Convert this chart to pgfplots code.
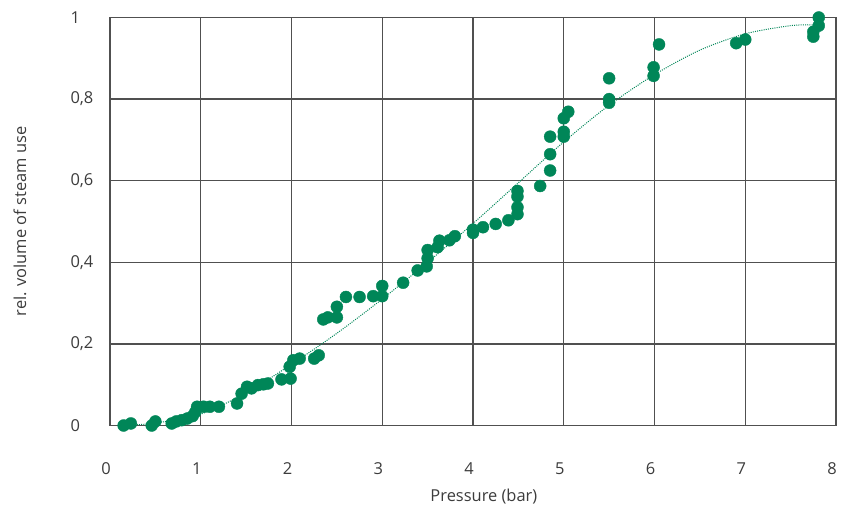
\documentclass[border=0pt]{standalone}
\usepackage{pgfplots}
\pgfplotsset{compat=1.18}
\usepackage{fontspec}
\setmainfont{Open Sans}
\definecolor{dotgreen}{RGB}{0,134,88}
\definecolor{gridgray}{RGB}{80,80,80}
\definecolor{labelgray}{RGB}{60,60,60}
\begin{document}
\begin{tikzpicture}
\begin{axis}[
  name=ax,
  scale only axis,
  width=726bp, height=408bp,
  xmin=0, xmax=8, ymin=0, ymax=1,
  xtick={0,1,...,8},
  ytick={0,0.2,0.4,0.6,0.8,1},
  xticklabels={0,1,2,3,4,5,6,7,8},
  yticklabels={0,{0,2},{0,4},{0,6},{0,8},1},
  major tick length=0pt,
  grid=major,
  major grid style={gridgray, line width=1.2bp},
  axis line style={gridgray, line width=1.2bp},
  tick label style={font=\fontsize{16.5}{19}\selectfont, text=labelgray},
  xticklabel style={anchor=center, xshift=-4bp, yshift=-43bp},
  yticklabel style={anchor=west, xshift=-43bp},
  label style={font=\fontsize{16.5}{19}\selectfont, text=labelgray},
  xlabel={Pressure (bar)},
  ylabel={rel. volume of steam use},
  xlabel style={at={(axis description cs:0.515,-0.174)}, anchor=center},
  ylabel style={at={(axis description cs:-0.124,0.5)}, anchor=center},
  clip=false,
]
\addplot[dotgreen, line width=1bp, dash pattern=on 1bp off 1.2bp, smooth, no marks] coordinates {
(0.15,0.000) (0.5,0.006) (1.0,0.028) (1.5,0.080) (2.0,0.150) (2.5,0.226)
(3.0,0.310) (3.5,0.400) (4.0,0.495) (4.5,0.595) (5.0,0.695) (5.5,0.785)
(6.0,0.860) (6.5,0.920) (7.0,0.960) (7.5,0.980) (7.78,0.982)
};
\addplot[only marks, mark=*, mark size=6bp, mark options={fill=dotgreen, draw=dotgreen}] table {
x y
0.15 0.000
0.23 0.005
0.46 0.000
0.50 0.010
0.68 0.005
0.73 0.010
0.79 0.013
0.85 0.017
0.91 0.023
0.94 0.033
0.96 0.046
1.03 0.046
1.10 0.046
1.20 0.046
1.40 0.054
1.45 0.078
1.51 0.095
1.56 0.091
1.63 0.099
1.69 0.101
1.74 0.103
1.89 0.113
1.99 0.115
1.98 0.144
2.02 0.160
2.09 0.164
2.25 0.164
2.30 0.172
2.35 0.260
2.40 0.265
2.50 0.265
2.50 0.291
2.60 0.315
2.75 0.315
2.90 0.317
3.00 0.317
3.00 0.342
3.23 0.350
3.39 0.380
3.49 0.390
3.50 0.410
3.50 0.430
3.61 0.437
3.63 0.453
3.74 0.454
3.80 0.464
4.00 0.472
4.00 0.480
4.11 0.486
4.25 0.494
4.39 0.503
4.49 0.518
4.49 0.535
4.49 0.561
4.49 0.575
4.74 0.587
4.85 0.625
4.85 0.665
4.85 0.708
5.00 0.708
5.00 0.720
5.00 0.753
5.05 0.769
5.50 0.791
5.50 0.800
5.50 0.851
5.99 0.857
5.99 0.878
6.05 0.934
6.90 0.937
7.00 0.946
7.75 0.953
7.75 0.965
7.81 0.980
7.81 1.000
};
\end{axis}
\pgfresetboundingbox
\path[use as bounding box] ([shift={(-110bp,-87.7bp)}]ax.south west) rectangle ([shift={(5bp,17.5bp)}]ax.north east);
\end{tikzpicture}
\end{document}
